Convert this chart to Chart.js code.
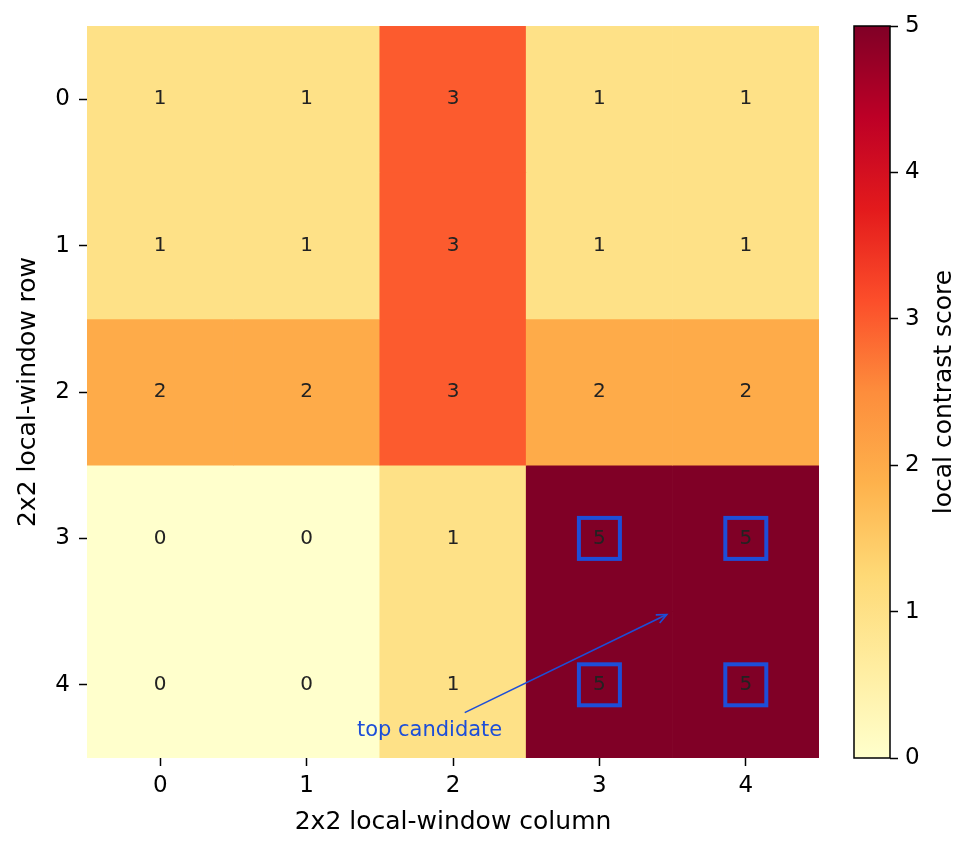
<!DOCTYPE html>
<html>
<head>
<meta charset="utf-8">
<script src="https://cdn.jsdelivr.net/npm/chart.js@4.4.1/dist/chart.umd.min.js"></script>
<style>
  html, body { margin:0; padding:0; background:#fff; }
  #wrap { position:relative; width:976px; height:854px; }
  #heat { position:absolute; left:0; top:0; }
  #cbar { position:absolute; left:830px; top:0; }
</style>
</head>
<body>
<div id="wrap">
  <canvas id="heat" width="976" height="854"></canvas>
  <canvas id="cbar" width="146" height="854"></canvas>
</div>
<script>
// data
const colLabels = ['0','1','2','3','4'];
const rowLabels = ['0','1','2','3','4'];
const scores = [
  [1,1,3,1,1],
  [1,1,3,1,1],
  [2,2,3,2,2],
  [0,0,1,5,5],
  [0,0,1,5,5]
];
const candidates = [[3,3],[3,4],[4,3],[4,4]]; // [row, col]
const cbarTicks = [0,1,2,3,4,5];
const vmin = 0, vmax = 5;
const noteText = 'top candidate';
const noteAt = [1.84, 4.31];      // [col, row]
const arrowFrom = [2.08, 4.19];
const arrowTo = [3.46, 3.52];

const FONT = "'DejaVu Sans', sans-serif";
const BLUE = '#1d4ed8';

// YlOrRd stops
const stops = ['#ffffcc','#ffeda0','#fed976','#feb24c','#fd8d3c','#fc4e2a','#e31a1c','#bd0026','#800026'];
function hex(h){ return [parseInt(h.slice(1,3),16), parseInt(h.slice(3,5),16), parseInt(h.slice(5,7),16)]; }
function ylorrd(t){
  t = Math.max(0, Math.min(1, t));
  const p = t * (stops.length - 1);
  const i = Math.min(stops.length - 2, Math.floor(p));
  const f = p - i;
  const a = hex(stops[i]), b = hex(stops[i+1]);
  const c = a.map((v,k) => Math.round(v + (b[k]-v)*f));
  return `rgb(${c[0]},${c[1]},${c[2]})`;
}

const cellText = {
  id:'cellText',
  afterDatasetsDraw(chart){
    const ctx = chart.ctx;
    ctx.save();
    ctx.font = '20px ' + FONT;
    ctx.fillStyle = '#222222';
    ctx.textAlign = 'center';
    ctx.textBaseline = 'middle';
    scores.forEach((row, r) => {
      const meta = chart.getDatasetMeta(r);
      meta.data.forEach((el, c) => {
        const p = el.getCenterPoint();
        ctx.fillText(String(row[c]), p.x, p.y);
      });
    });
    ctx.restore();
  }
};

const marks = {
  id:'marks',
  afterDraw(chart){
    const ctx = chart.ctx;
    const xs = chart.scales.x, ys = chart.scales.y;
    ctx.save();
    // candidate boxes
    ctx.strokeStyle = BLUE;
    ctx.lineWidth = 4;
    candidates.forEach(([r, c]) => {
      const x0 = xs.getPixelForValue(c - 0.14), x1 = xs.getPixelForValue(c + 0.14);
      const y0 = ys.getPixelForValue(r - 0.14), y1 = ys.getPixelForValue(r + 0.14);
      ctx.strokeRect(x0, y0, x1 - x0, y1 - y0);
    });
    // arrow
    const ax = xs.getPixelForValue(arrowFrom[0]), ay = ys.getPixelForValue(arrowFrom[1]);
    const bx = xs.getPixelForValue(arrowTo[0]), by = ys.getPixelForValue(arrowTo[1]);
    ctx.lineWidth = 1.6;
    ctx.beginPath(); ctx.moveTo(ax, ay); ctx.lineTo(bx, by); ctx.stroke();
    const ang = Math.atan2(by - ay, bx - ax), hl = 11;
    ctx.beginPath();
    ctx.moveTo(bx - hl*Math.cos(ang - 0.42), by - hl*Math.sin(ang - 0.42));
    ctx.lineTo(bx, by);
    ctx.lineTo(bx - hl*Math.cos(ang + 0.42), by - hl*Math.sin(ang + 0.42));
    ctx.stroke();
    // note
    ctx.fillStyle = BLUE;
    ctx.font = '21px ' + FONT;
    ctx.textAlign = 'center';
    ctx.textBaseline = 'middle';
    ctx.fillText(noteText, xs.getPixelForValue(noteAt[0]), ys.getPixelForValue(noteAt[1]));
    ctx.restore();
  }
};

new Chart(document.getElementById('heat'), {
  type:'bar',
  data:{
    labels: colLabels,
    datasets: scores.map((row, r) => ({
      data: row.map(() => [r - 0.5, r + 0.5]),
      backgroundColor: row.map(v => ylorrd((v - vmin) / (vmax - vmin))),
      borderWidth: 0,
      grouped: false,
      barPercentage: 1,
      categoryPercentage: 1
    }))
  },
  options:{
    responsive:false,
    animation:false,
    events:[],
    layout:{ padding:{ top:26, right:157, left:0, bottom:0 } },
    plugins:{ legend:{display:false}, tooltip:{enabled:false} },
    scales:{
      x:{
        offset:true,
        border:{ display:false },
        grid:{ display:true, drawOnChartArea:false, drawTicks:true, offset:false, tickLength:8, tickWidth:1.5, tickColor:'#000' },
        ticks:{ color:'#000', padding:6, font:{ family:FONT, size:23 } },
        title:{ display:true, text:'2x2 local-window column', color:'#000', font:{ family:FONT, size:25 }, padding:{ top:0, bottom:17 } },
        afterFit(s){ s.height = 96; }
      },
      y:{
        min:-0.5, max:4.5, reverse:true,
        border:{ display:false },
        grid:{ display:true, drawOnChartArea:false, drawTicks:true, tickLength:8, tickWidth:1.5, tickColor:'#000' },
        ticks:{ color:'#000', padding:9, font:{ family:FONT, size:23 }, callback:(v) => rowLabels[v] },
        afterBuildTicks(s){ s.ticks = rowLabels.map((_, i) => ({ value:i })); },
        title:{ display:true, text:'2x2 local-window row', color:'#000', font:{ family:FONT, size:25 }, padding:{ top:13, bottom:0 } },
        afterFit(s){ s.width = 87; }
      }
    }
  },
  plugins:[cellText, marks]
});

// colorbar
const cbarFrame = {
  id:'cbarFrame',
  afterDraw(chart){
    const ctx = chart.ctx, a = chart.chartArea;
    ctx.save();
    ctx.strokeStyle = '#000';
    ctx.lineWidth = 1.5;
    ctx.strokeRect(a.left, a.top, a.right - a.left, a.bottom - a.top);
    ctx.translate(114, (a.top + a.bottom) / 2);
    ctx.rotate(-Math.PI / 2);
    ctx.fillStyle = '#000';
    ctx.font = '25px ' + FONT;
    ctx.textAlign = 'center';
    ctx.textBaseline = 'middle';
    ctx.fillText('local contrast score', 0, 0);
    ctx.restore();
  }
};

new Chart(document.getElementById('cbar'), {
  type:'bar',
  data:{
    labels:[''],
    datasets:[{
      data:[[vmin, vmax]],
      borderWidth:0,
      barPercentage:1,
      categoryPercentage:1,
      backgroundColor(c){
        const ch = c.chart;
        if(!ch.chartArea) return '#ffffcc';
        const ys = ch.scales.y;
        const g = ch.ctx.createLinearGradient(0, ys.getPixelForValue(vmin), 0, ys.getPixelForValue(vmax));
        stops.forEach((s, i) => g.addColorStop(i / (stops.length - 1), s));
        return g;
      }
    }]
  },
  options:{
    responsive:false,
    animation:false,
    events:[],
    layout:{ padding:{ top:26, left:24, right:0, bottom:96 } },
    plugins:{ legend:{display:false}, tooltip:{enabled:false} },
    scales:{
      x:{ display:false },
      y:{
        position:'right',
        min:vmin, max:vmax,
        border:{ display:false },
        grid:{ display:true, drawOnChartArea:false, drawTicks:true, tickLength:8, tickWidth:1.5, tickColor:'#000' },
        ticks:{ color:'#000', padding:7, font:{ family:FONT, size:23 } },
        afterBuildTicks(s){ s.ticks = cbarTicks.map(v => ({ value:v })); },
        afterFit(s){ s.width = 86; }
      }
    }
  },
  plugins:[cbarFrame]
});
</script>
</body>
</html>
